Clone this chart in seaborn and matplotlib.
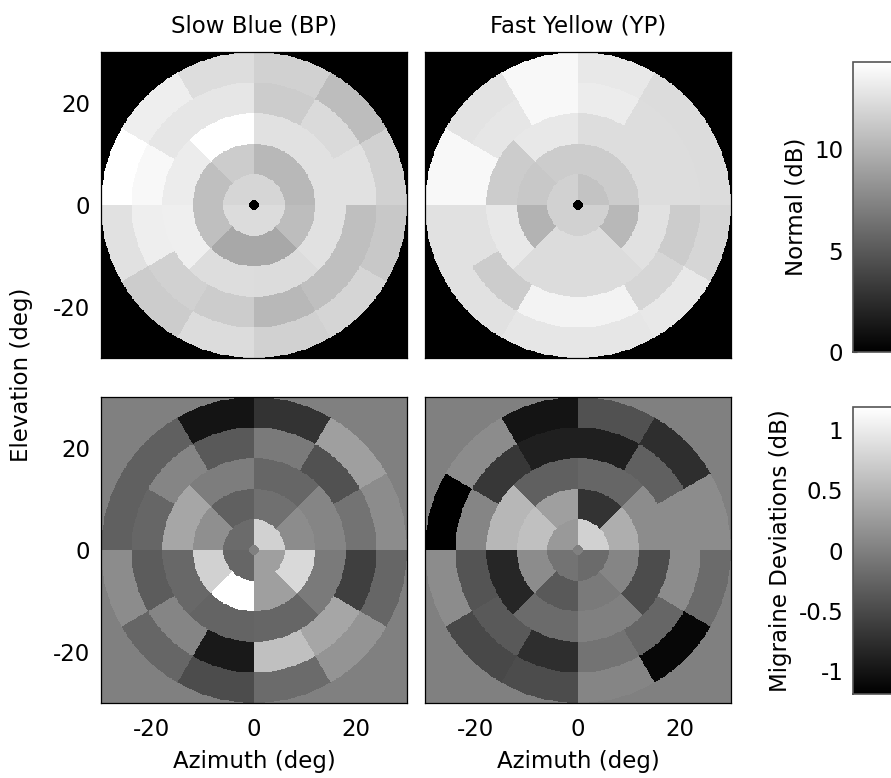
import numpy as np
import matplotlib
matplotlib.use("Agg")
import matplotlib.pyplot as plt
import seaborn as sns

# Visual-field layout: concentric rings (deg) and number of sectors per ring
ring_edges = [0, 6, 12, 18, 24, 30]
sectors_per_ring = [4, 8, 8, 12, 12]
fixation_radius = 1.0

# Sector values per ring, counter-clockwise starting at the positive azimuth axis
bp_normal = [
    [12.0, 12.0, 12.3, 12.3],
    [10.3, 10.3, 11.4, 10.7, 10.7, 9.4, 9.4, 10.6],
    [12.6, 12.6, 14.3, 13.2, 13.4, 12.4, 12.3, 12.6],
    [12.6, 12.2, 11.4, 12.9, 12.9, 13.9, 13.3, 11.7, 11.4, 10.3, 10.7, 10.7],
    [11.7, 10.6, 11.7, 12.4, 13.3, 14.3, 12.6, 11.4, 12.3, 11.7, 11.9, 11.2],
]
yp_normal = [
    [10.9, 11.7, 11.7, 11.7],
    [11.4, 11.4, 11.4, 11.2, 10.0, 12.3, 12.3, 10.3],
    [12.4, 12.4, 13.0, 11.4, 13.0, 12.3, 12.3, 12.6],
    [12.4, 12.4, 13.2, 13.9, 12.9, 13.9, 12.6, 11.4, 13.6, 13.6, 12.0, 11.4],
    [12.3, 12.3, 13.0, 13.9, 12.7, 13.9, 12.6, 12.6, 12.9, 12.9, 13.0, 12.0],
]
bp_deviation = [
    [0.76, -0.19, -0.24, 0.29],
    [0.12, -0.14, -0.29, 0.14, 0.76, 1.19, 0.29, 0.83],
    [0.05, -0.24, -0.02, 0.36, -0.22, -0.26, -0.24, -0.05],
    [-0.12, -0.43, -0.05, -0.36, 0.05, -0.24, -0.33, 0.05, -0.95, 0.60, 0.36, -0.60],
    [0.12, 0.29, -0.71, -1.00, -0.29, -0.29, 0.12, -0.24, -0.48, -0.19, 0.19, -0.24],
]
yp_deviation = [
    [0.76, 0.24, -0.12, -0.19],
    [0.43, -0.71, 0.29, 0.60, 0.12, -0.36, -0.05, 0.05],
    [0.12, -0.24, -0.29, 0.52, -0.83, -0.19, 0.00, -0.48],
    [0.12, -0.29, -0.90, -0.90, -0.67, 0.05, -0.40, -0.36, -0.76, -0.12, -0.24, 0.12],
    [0.12, -0.76, -0.43, -1.00, 0.12, -1.19, 0.12, -0.52, -0.48, 0.05, -1.12, -0.19],
]

column_titles = ["Slow Blue (BP)", "Fast Yellow (YP)"]
axis_ticks = [-20, 0, 20]
normal_ticks = [0, 5, 10]
deviation_ticks = [-1, -0.5, 0, 0.5, 1]
deviation_tick_labels = ["-1", "-0.5", "0", "0.5", "1"]

GRID = 360
EXTENT = 30.0


def field_map(rings, n=GRID):
    """Rasterise ring/sector values onto an n x n grid covering +-30 deg."""
    c = (np.arange(n) + 0.5) / n * 2 * EXTENT - EXTENT
    x, y = np.meshgrid(c, c[::-1])
    r = np.hypot(x, y)
    th = np.degrees(np.arctan2(y, x)) % 360
    out = np.zeros_like(r)
    for i, vals in enumerate(rings):
        k = sectors_per_ring[i]
        m = (r >= ring_edges[i]) & (r < ring_edges[i + 1])
        idx = (th[m] // (360.0 / k)).astype(int) % k
        out[m] = np.asarray(vals, dtype=float)[idx]
    out[r < fixation_radius] = 0.0
    return out


sns.set_theme(style="white")
plt.rcParams["font.family"] = ["DejaVu Sans"]
plt.rcParams["axes.unicode_minus"] = False
for key in ["text.color", "axes.labelcolor", "xtick.color", "ytick.color"]:
    plt.rcParams[key] = "black"

W, H = 891, 778
fig = plt.figure(figsize=(W / 100, H / 100), dpi=100)


def box(x, y, w, h):
    return [x / W, 1 - (y + h) / H, w / W, h / H]


FS = 16.5
panel_boxes = [
    [box(101, 52, 306, 306), box(425, 52, 306, 306)],
    [box(101, 397, 306, 306), box(425, 397, 306, 306)],
]
cbar_boxes = [box(853, 62, 60, 290), box(853, 407, 60, 287)]

normal_max = max(max(max(r) for r in d) for d in (bp_normal, yp_normal))
dev_lim = max(max(max(abs(v) for v in r) for r in d) for d in (bp_deviation, yp_deviation))
row_data = [(bp_normal, yp_normal), (bp_deviation, yp_deviation)]
row_lims = [(0, normal_max), (-dev_lim, dev_lim)]
row_labels = ["Normal (dB)", "Migraine Deviations (dB)"]

tick_pos_x = [(v + EXTENT) / (2 * EXTENT) * GRID for v in axis_ticks]
tick_pos_y = [(EXTENT - v) / (2 * EXTENT) * GRID for v in axis_ticks]

for row in range(2):
    cax = fig.add_axes(cbar_boxes[row])
    vmin, vmax = row_lims[row]
    for col in range(2):
        ax = fig.add_axes(panel_boxes[row][col])
        data = field_map(row_data[row][col])
        sns.heatmap(
            data, ax=ax, cmap="gray", vmin=vmin, vmax=vmax,
            cbar=(col == 0), cbar_ax=cax if col == 0 else None,
            xticklabels=False, yticklabels=False, rasterized=True,
        )
        for s in ax.spines.values():
            s.set_visible(True)
            s.set_color("black")
            s.set_linewidth(0.9)
        ax.set_xticks(tick_pos_x)
        ax.set_yticks(tick_pos_y)
        ax.set_xticklabels([str(v) for v in axis_ticks] if row == 1 else [])
        ax.set_yticklabels([str(v) for v in axis_ticks] if col == 0 else [])
        ax.tick_params(axis="both", direction="in", length=4, width=0.8,
                       color="black", top=True, right=True, bottom=True,
                       left=True, labelsize=FS, labelrotation=0)
        ax.tick_params(axis="x", pad=11)
        ax.tick_params(axis="y", pad=8)
        if row == 0:
            ax.set_title(column_titles[col], fontsize=FS, pad=14)
        else:
            ax.set_xlabel("Azimuth (deg)", fontsize=FS, labelpad=6)
        if col == 0:
            cbar = ax.collections[0].colorbar
    cbar.outline.set_visible(True)
    cbar.outline.set_linewidth(1.2)
    cbar.outline.set_edgecolor("#555555")
    if row == 0:
        cbar.set_ticks(normal_ticks)
        cbar.set_ticklabels([str(v) for v in normal_ticks])
    else:
        cbar.set_ticks(deviation_ticks)
        cbar.set_ticklabels(deviation_tick_labels)
    cax.yaxis.set_ticks_position("left")
    cax.yaxis.set_label_position("left")
    cax.tick_params(axis="y", direction="in", length=3, width=0.8, color="#333333",
                    labelsize=FS, pad=7, left=True, right=False)
    cbar.set_label(row_labels[row], fontsize=FS, labelpad=5)

fig.text(22 / W, 1 - 375 / H, "Elevation (deg)", rotation=90,
         ha="center", va="center", fontsize=FS)

fig.savefig("out.png", dpi=100)
